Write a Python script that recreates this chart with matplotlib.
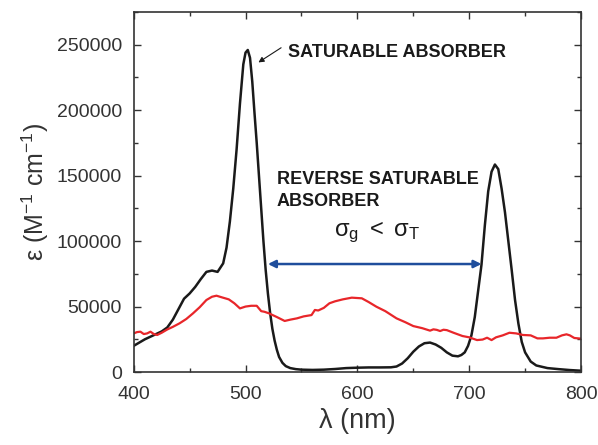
import numpy as np
import matplotlib
matplotlib.use("Agg")
import matplotlib.pyplot as plt
from matplotlib.ticker import MultipleLocator

plt.rcParams["font.family"] = ["Liberation Sans", "DejaVu Sans"]
plt.rcParams["mathtext.fontset"] = "custom"
plt.rcParams["mathtext.rm"] = "Liberation Sans"
plt.rcParams["mathtext.it"] = "Liberation Sans:italic"
plt.rcParams["mathtext.bf"] = "Liberation Sans:bold"

# black curve: saturable absorber spectrum
wl_black = [400, 405, 410, 415, 420, 425, 430, 435, 440, 445, 450, 455, 460, 465,
            470, 475, 480, 483, 486, 489, 492, 495, 498, 500, 502, 504, 506, 508,
            510, 512, 514, 516, 518, 520, 522, 524, 526, 528, 530, 533, 536, 540,
            545, 550, 560, 570, 580, 590, 600, 610, 620, 630, 635, 640, 645, 650,
            655, 660, 665, 670, 675, 680, 685, 690, 693, 696, 699, 702, 705, 708,
            711, 714, 717, 720, 723, 726, 729, 732, 735, 738, 741, 744, 747, 750,
            755, 760, 770, 780, 790, 800]
eps_black = [20000, 22500, 25000, 27000, 29000, 31000, 34000, 40000, 48000, 56000,
             60000, 65000, 71000, 76500, 77500, 76500, 83000, 95000, 115000, 140000,
             170000, 205000, 235000, 244000, 246000, 240000, 222000, 198000, 175000,
             150000, 125000, 100000, 78000, 60000, 45000, 33000, 24000, 17000, 11500,
             7000, 4500, 3000, 2200, 1800, 1600, 1800, 2300, 3000, 3300, 3500, 3500,
             3600, 4200, 6500, 10500, 15500, 19500, 22000, 22500, 21000, 18500, 15000,
             12500, 12000, 13000, 15000, 20000, 28000, 42000, 62000, 82000, 112000,
             138000, 153000, 158500, 155000, 140000, 122000, 100000, 78000, 55000,
             37000, 23000, 15000, 8000, 5000, 3000, 2200, 1500, 1000]

# red curve: reverse saturable absorber spectrum
wl_red = [400, 403, 406, 409, 412, 415, 418, 421, 425, 430, 435, 441, 447, 453, 459,
          465, 470, 474, 479, 485, 490, 495, 500, 505, 510, 514, 517, 521, 528, 535,
          540, 546, 552, 559, 562, 565, 570, 575, 580, 587, 595, 604, 610, 617, 625,
          635, 643, 650, 658, 665, 668, 671, 674, 677, 680, 686, 694, 700, 707, 712,
          716, 720, 724, 730, 736, 742, 748, 755, 761, 766, 772, 778, 783, 787, 790,
          794, 800]
eps_red = [29500, 30500, 30800, 29000, 29500, 30800, 29000, 28300, 30000, 32500,
           34500, 37200, 40500, 44800, 49500, 55000, 57500, 58300, 57000, 55500,
           52500, 48600, 50000, 50600, 50600, 46500, 46000, 44800, 42000, 39000,
           40000, 41000, 42500, 43500, 47400, 47000, 49000, 52500, 54000, 55500,
           56800, 56300, 53500, 49900, 46500, 41000, 38000, 35100, 33500, 31600,
           32600, 32200, 31300, 32300, 32000, 30000, 27500, 26500, 24400, 24800,
           26200, 24400, 26500, 28000, 30000, 29500, 28300, 28000, 25700, 25700,
           26200, 26200, 28000, 28800, 28000, 26000, 25500]

# blue double arrow span (nm) and its height
arrow_x = [520, 711]
arrow_y = 82500

fig = plt.figure(figsize=(5.98, 4.45), dpi=100)
ax = fig.add_axes([0.2236, 0.164, 0.748, 0.809])

ax.plot(wl_black, eps_black, color="#1a1a1a", lw=1.8)
ax.plot(wl_red, eps_red, color="#e8262a", lw=1.6)

ax.set_xlim(400, 800)
ax.set_ylim(0, 275000)
ax.xaxis.set_major_locator(MultipleLocator(100))
ax.xaxis.set_minor_locator(MultipleLocator(50))
ax.yaxis.set_major_locator(MultipleLocator(50000))
ax.yaxis.set_minor_locator(MultipleLocator(25000))
ax.tick_params(which="both", direction="in", top=True, right=True,
               labelsize=14, colors="#333333", width=1.0)
ax.tick_params(which="major", length=5)
ax.tick_params(which="minor", length=3)
ax.tick_params(axis="x", pad=10)
ax.tick_params(axis="y", pad=8.5)
for s in ax.spines.values():
    s.set_linewidth(1.2)
    s.set_color("#333333")

ax.set_xlabel("λ (nm)", fontsize=19.5, color="#333333", labelpad=4)
ax.set_ylabel("ε (M$^{-1}$ cm$^{-1}$)", fontsize=18, color="#333333", labelpad=4)

ax.annotate("", xy=(511.5, 236500), xytext=(531.8, 247700),
            arrowprops=dict(arrowstyle="-|>", color="#1a1a1a", lw=0.8,
                            mutation_scale=8, shrinkA=0, shrinkB=0))
ax.text(538, 244400, "SATURABLE ABSORBER", fontsize=13, fontweight="bold",
        color="#1a1a1a", va="center", ha="left")
ax.text(528, 138600, "REVERSE SATURABLE\nABSORBER", fontsize=13,
        fontweight="bold", color="#1a1a1a", va="center", ha="left",
        linespacing=1.4)
ax.text(618, 107000, r"$\mathrm{σ_g\ <\ σ_T}$", fontsize=17, color="#1a1a1a",
        ha="center", va="center")

ax.annotate("", xy=(arrow_x[0], arrow_y), xytext=(arrow_x[1], arrow_y),
            arrowprops=dict(arrowstyle="<|-|>", color="#1f4e9c", lw=1.8,
                            mutation_scale=11, shrinkA=0, shrinkB=0))

fig.savefig("out.png", dpi=100)
